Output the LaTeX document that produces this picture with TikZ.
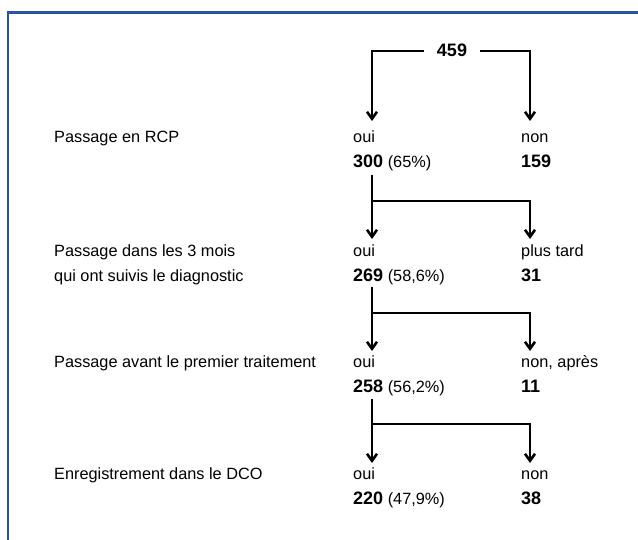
\documentclass[tikz,border=0pt]{standalone}
\usepackage{fontspec}
\setmainfont{Liberation Sans}
\usepackage{tikz}
\usetikzlibrary{arrows.meta}
\definecolor{frameblue}{RGB}{42,84,160}
\newcommand{\nb}[1]{{\fontsize{18}{20}\selectfont\bfseries #1}}

\begin{document}
\begin{tikzpicture}[x=1pt, y=-1pt,
  every node/.style={inner sep=0pt, anchor=base west,
    font=\fontsize{16.3}{20}\selectfont, text=black},
  flow/.style={line width=2.6pt, line join=miter,
    -{Straight Barb[length=7pt,width=10pt]}},
  frame/.style={frameblue, line width=2.8pt}]
  \useasboundingbox (0,0) rectangle (638,540);
  \draw[frame] (8,545) -- (8,12.8) -- (645,12.8);

  % row labels
  \node (rcp) at (54,143) {Passage en RCP};
  \node (delai) at (54,257) {Passage dans les 3 mois};
  \node (delaib) at (54,282) {qui ont suivis le diagnostic};
  \node (avant) at (54,368) {Passage avant le premier traitement};
  \node (dco) at (54,479) {Enregistrement dans le DCO};

  % counts
  \node[anchor=base, inner xsep=12.5pt] (n459) at (452,57) {\nb{459}};
  \node (oui1) at (353,143) {oui};
  \node (non1) at (521,143) {non};
  \node (n300) at (353,168) {\nb{300} (65\%)};
  \node (n159) at (521,168) {\nb{159}};
  \node (oui2) at (353,257) {oui};
  \node (non2) at (521,257) {plus tard};
  \node (n269) at (353,282) {\nb{269} (58,6\%)};
  \node (n31) at (521,282) {\nb{31}};
  \node (oui3) at (353,368) {oui};
  \node (non3) at (521,368) {non, après};
  \node (n258) at (353,392) {\nb{258} (56,2\%)};
  \node (n11) at (521,392) {\nb{11}};
  \node (oui4) at (353,479) {oui};
  \node (non4) at (521,479) {non};
  \node (n220) at (353,504) {\nb{220} (47,9\%)};
  \node (n38) at (521,504) {\nb{38}};

  % split points and arrow ends
  \coordinate (t1a) at (372,121);
  \coordinate (t1b) at (530,121);
  \coordinate (s2) at (372,175);
  \coordinate (h2) at (372,201);
  \coordinate (t2a) at (372,239);
  \coordinate (t2b) at (530,239);
  \coordinate (s3) at (372,287);
  \coordinate (h3) at (372,313);
  \coordinate (t3a) at (372,351);
  \coordinate (t3b) at (530,351);
  \coordinate (s4) at (372,399);
  \coordinate (h4) at (372,424);
  \coordinate (t4a) at (372,463);
  \coordinate (t4b) at (530,463);

  \draw[flow] (n459.west) -| (t1a);
  \draw[flow] (n459.east) -| (t1b);
  \draw[flow] (s2) -- (t2a);
  \draw[flow] (h2) -| (t2b);
  \draw[flow] (s3) -- (t3a);
  \draw[flow] (h3) -| (t3b);
  \draw[flow] (s4) -- (t4a);
  \draw[flow] (h4) -| (t4b);
\end{tikzpicture}
\end{document}
